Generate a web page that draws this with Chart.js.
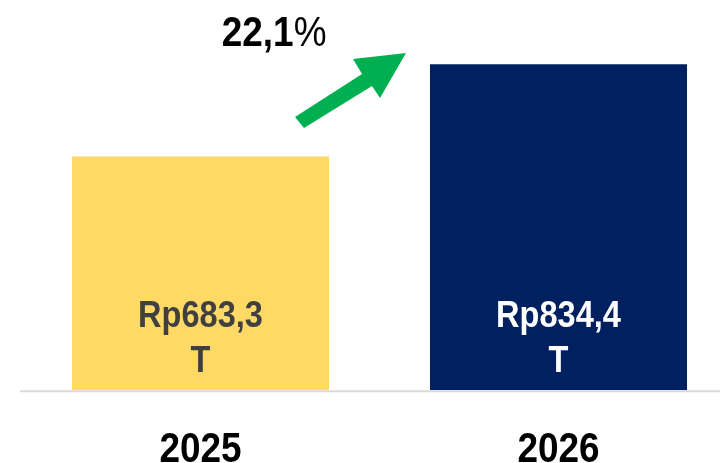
<!DOCTYPE html>
<html>
<head>
<meta charset="utf-8">
<script src="https://cdn.jsdelivr.net/npm/chart.js@4/dist/chart.umd.min.js"></script>
<style>
html,body{margin:0;padding:0;background:#fff;overflow:hidden;width:720px;height:463px;}
#c{display:block;}
</style>
</head>
<body>
<canvas id="c" width="740" height="463" style="width:740px;height:463px"></canvas>
<script>
const categories = ["2025", "2026"];
const values = [683.3, 834.4];
const valueLabels = [["Rp683,3", "T"], ["Rp834,4", "T"]];
const growthLabel = ["22,1", "%"];
const barColors = ["#FFD966", "#002060"];
const labelColors = ["#404040", "#FFFFFF"];

const SQ = 0.88;
function sqText(ctx, txt, x, y, font, color, align) {
  ctx.save();
  ctx.font = font;
  ctx.fillStyle = color;
  ctx.textBaseline = 'alphabetic';
  const w = ctx.measureText(txt).width * SQ;
  let left = x;
  if (align === 'center') left = x - w / 2;
  ctx.translate(left, y);
  ctx.scale(SQ, 1);
  ctx.textAlign = 'left';
  ctx.fillText(txt, 0, 0);
  ctx.restore();
  return w;
}

const overlay = {
  id: 'overlay',
  afterDatasetsDraw(chart) {
    const ctx = chart.ctx;
    const ca = chart.chartArea;
    // baseline
    ctx.save();
    ctx.strokeStyle = '#D9D9D9';
    ctx.lineWidth = 2;
    ctx.beginPath();
    ctx.moveTo(20, ca.bottom + 1.2);
    ctx.lineTo(740, ca.bottom + 1.2);
    ctx.stroke();
    ctx.restore();
    const meta = chart.getDatasetMeta(0);
    meta.data.forEach((bar, i) => {
      const lines = valueLabels[i];
      sqText(ctx, lines[0], bar.x, ca.bottom - 63.5, 'bold 37px "Liberation Sans", Arial, sans-serif', labelColors[i], 'center');
      sqText(ctx, lines[1], bar.x, ca.bottom - 18.5, 'bold 37px "Liberation Sans", Arial, sans-serif', labelColors[i], 'center');
      sqText(ctx, categories[i], bar.x, ca.bottom + 71.5, 'bold 42px "Liberation Sans", Arial, sans-serif', '#000000', 'center');
    });
    // growth label
    let x = 221.7;
    x += sqText(ctx, growthLabel[0], x, 45.5, 'bold 42px "Liberation Sans", Arial, sans-serif', '#000000', 'left');
    sqText(ctx, growthLabel[1], x, 45.5, '42px "Liberation Sans", Arial, sans-serif', '#000000', 'left');
    // arrow
    ctx.save();
    ctx.fillStyle = '#00B050';
    ctx.beginPath();
    const pts = [[295,117],[362,74],[353,59],[406,53],[380,98],[372,86],[304,128]];
    ctx.moveTo(pts[0][0], pts[0][1]);
    for (let k = 1; k < pts.length; k++) ctx.lineTo(pts[k][0], pts[k][1]);
    ctx.closePath();
    ctx.fill();
    ctx.restore();
  }
};

new Chart(document.getElementById('c'), {
  type: 'bar',
  data: {
    labels: categories,
    datasets: [{
      data: values,
      backgroundColor: barColors,
      borderWidth: 0,
      barPercentage: 0.718,
      categoryPercentage: 1.0
    }]
  },
  options: {
    responsive: false,
    animation: false,
    events: [],
    layout: { padding: { left: 21.5, right: 2.5, top: 0, bottom: 73 } },
    plugins: { legend: { display: false }, tooltip: { enabled: false } },
    scales: {
      x: { display: false },
      y: { display: false, min: 300, max: 940 }
    }
  },
  plugins: [overlay]
});
</script>
</body>
</html>
